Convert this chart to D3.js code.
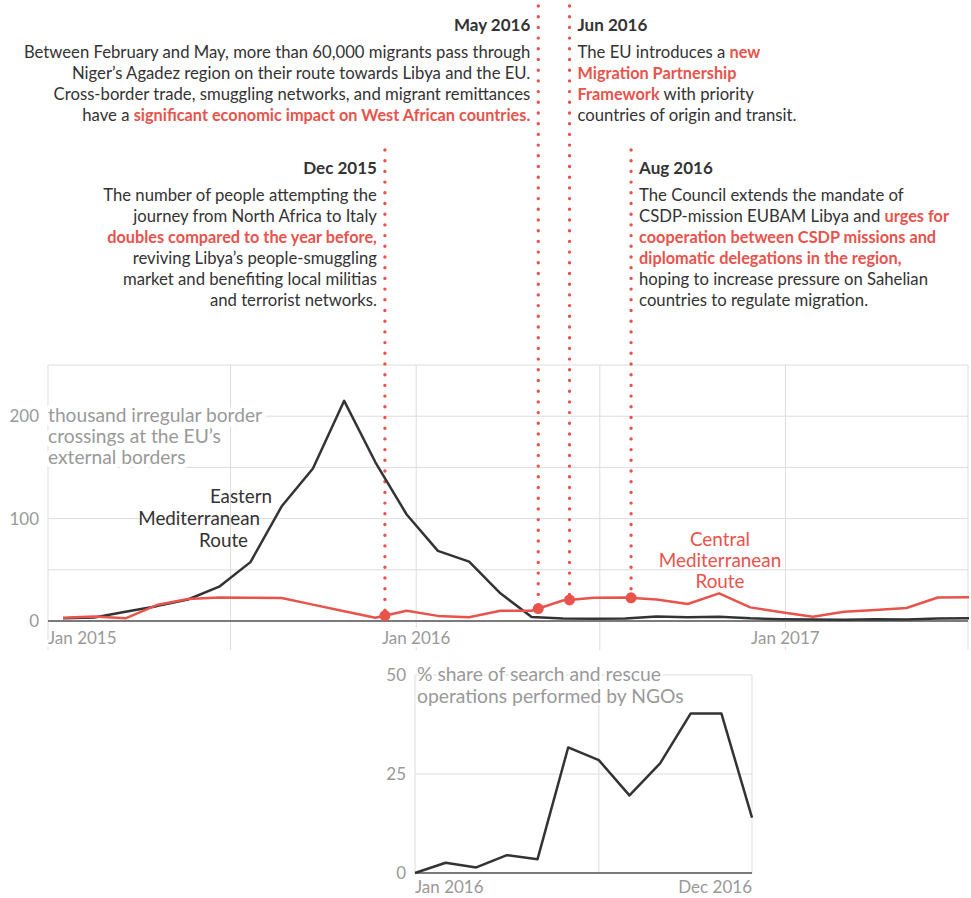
<!DOCTYPE html>
<head>
<meta charset="utf-8">
<title>Migration routes and NGO rescues</title>
<style>
	body {
		margin:0;
		background:#fff;
	}
	svg {
		display:block;
		font-family: Lato, "Open Sans", sans-serif;
	}
	.grid line {
		stroke:#ddd;
		stroke-width:1px;
	}
	.axis-label {
		fill:#999;
		font-size:17px;
	}
	.halo {
		stroke:#fff;
		stroke-linejoin:round;
		paint-order:stroke;
	}
	.note {
		fill:#333;
		font-size:16.7px;
	}
	.note .hl {
		fill:#e8534c;
		font-weight:bold;
		font-size:16.3px;
	}
	.note-title {
		fill:#333;
		font-size:17px;
		font-weight:bold;
	}
	.series {
		fill:none;
		stroke-width:2.5px;
		stroke-linejoin:round;
	}
</style>
</head>
<body>
<script src="https://d3js.org/d3.v7.min.js"></script>
<script>

	// monthly irregular border crossings, thousands
	var months = ["2015-01","2015-02","2015-03","2015-04","2015-05","2015-06","2015-07","2015-08","2015-09","2015-10","2015-11","2015-12",
		"2016-01","2016-02","2016-03","2016-04","2016-05","2016-06","2016-07","2016-08","2016-09","2016-10","2016-11","2016-12",
		"2017-01","2017-02","2017-03","2017-04","2017-05","2017-06"];
	var eastMed = [2.6, 3.5, 9, 14.5, 21, 33.5, 57.5, 112, 149, 215, 155, 104,
		68.5, 58, 27, 3.8, 2.5, 2.3, 2.5, 4.5, 3.6, 4.2, 2.6, 1.8,
		1.5, 1.2, 1.8, 1.5, 2.4, 2.8];
	var centralMed = [3.2, 4.3, 2.6, 15.6, 21.5, 23, 22.8, 22.5, 16, 9.5, 3.2, 10,
		5, 3.6, 10, 10, 20, 22.7, 23, 21, 16.6, 27, 13.3, 8.5,
		4.2, 9, 10.8, 12.7, 23, 23.2];

	// share of search and rescue operations by NGOs, %
	var ngoMonths = ["2016-01","2016-02","2016-03","2016-04","2016-05","2016-06","2016-07","2016-08","2016-09","2016-10","2016-11","2016-12"];
	var ngoShare = [0, 2.6, 1.4, 4.5, 3.5, 31.7, 28.5, 19.6, 27.7, 40.3, 40.3, 14];

	var yTickLabels = [0, 100, 200];
	var ngoTickLabels = [0, 25, 50];

	// events on the timeline
	var eventDates = ["2015-12", "2016-05", "2016-06", "2016-08"];
	var eventTitles = ["Dec 2015", "May 2016", "Jun 2016", "Aug 2016"];
	var eventTexts = [
		[
			[["The number of people attempting the"]],
			[["journey from North Africa to Italy"]],
			[["doubles compared to the year before,", 1]],
			[["reviving Libya’s people-smuggling"]],
			[["market and benefiting local militias"]],
			[["and terrorist networks."]]
		],
		[
			[["Between February and May, more than 60,000 migrants pass through"]],
			[["Niger’s Agadez region on their route towards Libya and the EU."]],
			[["Cross-border trade, smuggling networks, and migrant remittances"]],
			[["have a "], ["significant economic impact on West African countries.", 1]]
		],
		[
			[["The EU introduces a "], ["new", 1]],
			[["Migration Partnership", 1]],
			[["Framework", 1], [" with priority"]],
			[["countries of origin and transit."]]
		],
		[
			[["The Council extends the mandate of"]],
			[["CSDP-mission EUBAM Libya and "], ["urges for", 1]],
			[["cooperation between CSDP missions and", 1]],
			[["diplomatic delegations in the region,", 1]],
			[["hoping to increase pressure on Sahelian"]],
			[["countries to regulate migration."]]
		]
	];

	var red = "#e8534c";
	var dark = "#333";

	var parseMonth = d3.timeParse("%Y-%m");

	var svg = d3.select("body").append("svg")
		.attr("width", 971)
		.attr("height", 898);

	// ---------- main chart ----------
	var x = d3.scaleTime()
		.domain([new Date(2015, 0, 1), new Date(2017, 6, 1)])
		.range([48, 968]);
	var xm = d3.scalePoint()
		.domain(months)
		.range([63, 969]);
	var y = d3.scaleLinear()
		.domain([0, 250])
		.range([621, 365]);

	var grid = svg.append("g").attr("class", "grid");
	grid.selectAll("line.h")
		.data(y.ticks(5))
		.enter().append("line")
		.attr("class", "h")
		.attr("x1", x.range()[0]).attr("x2", x.range()[1])
		.attr("y1", function(d) {return y(d)})
		.attr("y2", function(d) {return y(d)});
	var halfYears = x.ticks(d3.timeMonth.every(6));
	grid.selectAll("line.v")
		.data(halfYears)
		.enter().append("line")
		.attr("class", "v")
		.attr("x1", function(d) {return x(d)})
		.attr("x2", function(d) {return x(d)})
		.attr("y1", y(250)).attr("y2", 650);

	svg.append("line")
		.attr("x1", x.range()[0]).attr("x2", x.range()[1])
		.attr("y1", y(0)).attr("y2", y(0))
		.style("stroke", "#555")
		.style("stroke-width", 1.5);

	svg.selectAll("text.ytick")
		.data(yTickLabels)
		.enter().append("text")
		.attr("class", "ytick axis-label")
		.attr("text-anchor", "end")
		.attr("x", 39)
		.attr("y", function(d) {return y(d) + 6})
		.text(function(d) {return d});

	var jans = halfYears.filter(function(d) {return d.getMonth() == 0});
	svg.selectAll("text.xtick")
		.data(jans)
		.enter().append("text")
		.attr("class", "xtick axis-label halo")
		.style("stroke-width", 6)
		.attr("text-anchor", function(d, i) {return i == 0 ? "start" : "middle"})
		.attr("x", function(d) {return x(d)})
		.attr("y", 644)
		.text(d3.timeFormat("%b %Y"));

	var unitLabel = svg.append("text")
		.attr("class", "axis-label halo")
		.style("font-size", "19.2px")
		.style("stroke-width", 9);
	["thousand irregular border", "crossings at the EU’s", "external borders"].forEach(function(t, i) {
		unitLabel.append("tspan").attr("x", 48).attr("y", 422 + i * 21).text(t);
	});

	// event dotted lines, drawn under the series
	function eventX(m) { return x(parseMonth(m)); }
	function centralAt(px) {
		var f = (px - xm.range()[0]) / xm.step();
		var i = Math.floor(f), t = f - i;
		return centralMed[i] + (centralMed[i + 1] - centralMed[i]) * t;
	}
	var eventTop = [150, 6, 6, 150];
	svg.selectAll("line.event")
		.data(eventDates)
		.enter().append("line")
		.attr("class", "event")
		.attr("x1", eventX).attr("x2", eventX)
		.attr("y1", function(d, i) {return eventTop[i]})
		.attr("y2", function(d) {return y(centralAt(eventX(d)))})
		.style("stroke", red)
		.style("stroke-width", 3.4)
		.style("stroke-linecap", "round")
		.style("stroke-dasharray", "0 10.7");

	var line = d3.line()
		.x(function(d, i) {return xm(months[i])})
		.y(function(d) {return y(d)});

	svg.append("path")
		.attr("class", "series")
		.attr("d", line(eastMed))
		.style("stroke", dark);
	svg.append("path")
		.attr("class", "series")
		.attr("d", line(centralMed))
		.style("stroke", red);

	svg.selectAll("circle.event")
		.data(eventDates)
		.enter().append("circle")
		.attr("class", "event")
		.attr("r", 5.5)
		.attr("cx", eventX)
		.attr("cy", function(d) {return y(centralAt(eventX(d)))})
		.style("fill", red);

	// route labels
	var eastLabel = svg.append("text").style("font-size", "18.8px").style("fill", dark).attr("text-anchor", "end");
	[["Eastern", 272], ["Mediterranean", 260], ["Route", 248]].forEach(function(t, i) {
		eastLabel.append("tspan").attr("x", t[1]).attr("y", 503 + i * 22).text(t[0]);
	});
	var centralLabel = svg.append("text").style("font-size", "18.9px").style("fill", red).attr("text-anchor", "middle");
	["Central", "Mediterranean", "Route"].forEach(function(t, i) {
		centralLabel.append("tspan").attr("x", 720).attr("y", 546 + i * 21).text(t);
	});

	// event notes
	var noteLayout = [
		{side: "end", titleY: 174},
		{side: "end", titleY: 31},
		{side: "start", titleY: 31},
		{side: "start", titleY: 174}
	];
	eventDates.forEach(function(d, k) {
		var lx = eventX(d) + (noteLayout[k].side == "end" ? -8 : 8);
		svg.append("text")
			.attr("class", "note-title")
			.attr("text-anchor", noteLayout[k].side)
			.attr("x", lx)
			.attr("y", noteLayout[k].titleY)
			.text(eventTitles[k]);
		var note = svg.append("text")
			.attr("class", "note")
			.attr("text-anchor", noteLayout[k].side);
		eventTexts[k].forEach(function(row, i) {
			var first = true;
			row.forEach(function(seg) {
				var ts = note.append("tspan").text(seg[0]);
				if (first) {
					ts.attr("x", lx).attr("y", noteLayout[k].titleY + 27 + i * 21);
					first = false;
				}
				if (seg[1]) ts.attr("class", "hl");
			});
		});
	});

	// ---------- NGO chart ----------
	var xb = d3.scalePoint()
		.domain(ngoMonths)
		.range([415, 752]);
	var yb = d3.scaleLinear()
		.domain([0, 50])
		.range([873, 675]);

	var gridB = svg.append("g").attr("class", "grid");
	gridB.selectAll("line.h")
		.data(ngoTickLabels)
		.enter().append("line")
		.attr("x1", xb.range()[0]).attr("x2", xb.range()[1])
		.attr("y1", function(d) {return yb(d)})
		.attr("y2", function(d) {return yb(d)});
	gridB.selectAll("line.v")
		.data([ngoMonths[0], ngoMonths[6], ngoMonths[11]])
		.enter().append("line")
		.attr("x1", function(d) {return xb(d)})
		.attr("x2", function(d) {return xb(d)})
		.attr("y1", yb(50)).attr("y2", yb(0));

	svg.append("line")
		.attr("x1", xb.range()[0]).attr("x2", xb.range()[1])
		.attr("y1", yb(0)).attr("y2", yb(0))
		.style("stroke", "#555")
		.style("stroke-width", 1.5);

	svg.selectAll("text.ybtick")
		.data(ngoTickLabels)
		.enter().append("text")
		.attr("class", "ybtick axis-label")
		.attr("text-anchor", "end")
		.attr("x", 406)
		.attr("y", function(d) {return yb(d) + 6})
		.text(function(d) {return d});

	var fmtB = d3.timeFormat("%b %Y");
	svg.selectAll("text.xbtick")
		.data([ngoMonths[0], ngoMonths[11]])
		.enter().append("text")
		.attr("class", "xbtick axis-label")
		.attr("text-anchor", function(d, i) {return i == 0 ? "start" : "end"})
		.attr("x", function(d) {return xb(d)})
		.attr("y", 893)
		.text(function(d) {return fmtB(parseMonth(d))});

	var ngoLabel = svg.append("text")
		.attr("class", "axis-label halo")
		.style("font-size", "19.3px")
		.style("stroke-width", 4);
	["% share of search and rescue", "operations performed by NGOs"].forEach(function(t, i) {
		ngoLabel.append("tspan").attr("x", 417).attr("y", 681 + i * 22).text(t);
	});

	var lineB = d3.line()
		.x(function(d, i) {return xb(ngoMonths[i])})
		.y(function(d) {return yb(d)});
	svg.append("path")
		.attr("class", "series")
		.attr("d", lineB(ngoShare))
		.style("stroke", dark);

</script>
</body>
